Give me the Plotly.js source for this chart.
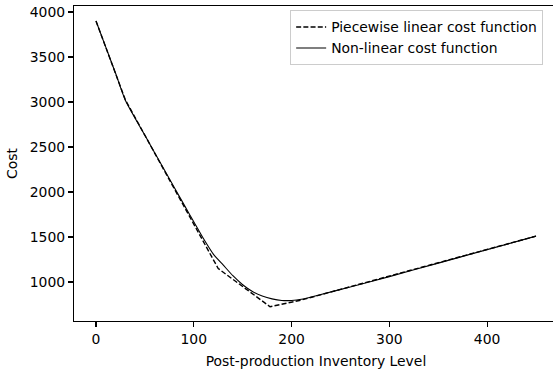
<!DOCTYPE html>
<html>
<head>
<meta charset="utf-8">
<script src="https://cdn.plot.ly/plotly-3.0.1.min.js"></script>
<style>
html, body { margin: 0; padding: 0; overflow: hidden; background: #fff; }
#chart { width: 562px; height: 372px; }
</style>
</head>
<body>
<div id="chart"></div>
<script>
// Piecewise linear cost function (dashed)
var pwX = [0, 30, 125, 178, 210, 450];
var pwY = [3900, 3025, 1150, 726, 800, 1510];

// Non-linear cost function (solid)
var nlX = [0, 10, 20, 30, 50, 70, 90, 100, 110, 120, 130, 140, 150, 160, 170, 180, 190, 200, 210, 230, 260, 300, 350, 400, 450];
var nlY = [3900, 3610, 3320, 3020, 2630, 2245, 1860, 1670, 1480, 1310, 1190, 1070, 970, 895, 845, 813, 795, 795, 808, 862, 945, 1060, 1210, 1360, 1510];

var xTicks = [0, 100, 200, 300, 400];
var yTicks = [1000, 1500, 2000, 2500, 3000, 3500, 4000];

var FONT = "DejaVu Sans, sans-serif";

var traces = [
  {
    x: pwX, y: pwY, type: "scatter", mode: "lines",
    name: "Piecewise linear cost function",
    line: { color: "#000000", width: 1.4, dash: "5px,2.2px" }
  },
  {
    x: nlX, y: nlY, type: "scatter", mode: "lines",
    name: "Non-linear cost function",
    line: { color: "#000000", width: 1.1, shape: "spline", smoothing: 0.6 }
  }
];

var layout = {
  width: 562, height: 372,
  margin: { l: 74, r: 4, t: 6, b: 51, pad: 0 },
  paper_bgcolor: "#ffffff", plot_bgcolor: "#ffffff",
  font: { family: FONT, size: 13.9, color: "#000000" },
  showlegend: true,
  legend: {
    x: 0.4466, y: 0.986, xanchor: "left", yanchor: "top",
    bgcolor: "#ffffff", bordercolor: "#cccccc", borderwidth: 1,
    font: { family: FONT, size: 13.9, color: "#000000" },
    tracegroupgap: 0
  },
  xaxis: {
    range: [-22.5, 472.5],
    tickvals: xTicks, ticktext: xTicks.map(String),
    ticks: "outside", ticklen: 5, tickwidth: 1.1, tickcolor: "#000000",
    showline: true, mirror: true, linecolor: "#000000", linewidth: 1.1,
    showgrid: false, zeroline: false,
    tickfont: { family: FONT, size: 13.9, color: "#000000" },
    title: { text: "Post-production Inventory Level", font: { family: FONT, size: 13.9, color: "#000000" }, standoff: 10 }
  },
  yaxis: {
    range: [567, 4067],
    tickvals: yTicks, ticktext: yTicks.map(String),
    ticks: "outside", ticklen: 5, tickwidth: 1.1, tickcolor: "#000000",
    showline: true, mirror: true, linecolor: "#000000", linewidth: 1.1,
    showgrid: false, zeroline: false,
    tickfont: { family: FONT, size: 13.9, color: "#000000" },
    title: { text: "Cost", font: { family: FONT, size: 13.9, color: "#000000" }, standoff: 8 }
  }
};

Plotly.newPlot("chart", traces, layout, { displayModeBar: false, staticPlot: true });
</script>
</body>
</html>
